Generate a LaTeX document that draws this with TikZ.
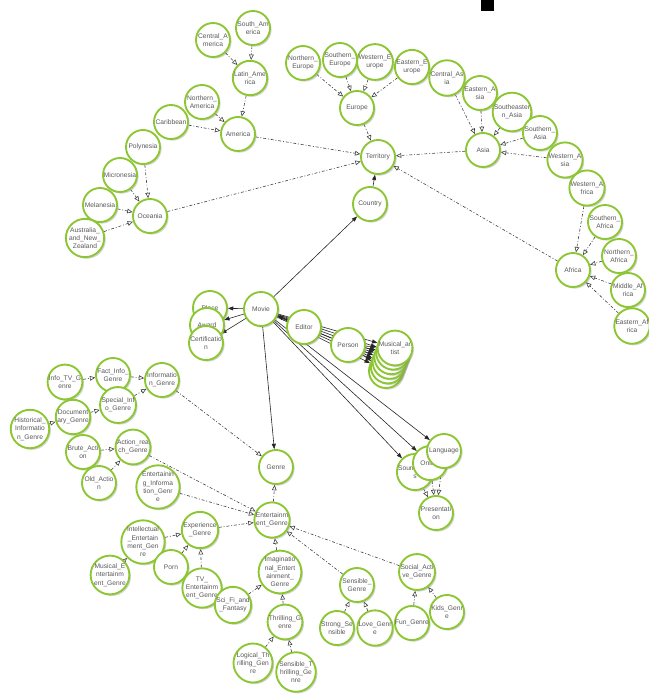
\documentclass[tikz,border=0pt]{standalone}
\usepackage{fontspec}
\setmainfont{Liberation Sans}
\usetikzlibrary{arrows.meta, shadows, backgrounds}

\definecolor{ontogreen}{RGB}{140,198,50}

\begin{document}
\begin{tikzpicture}[x=0.75pt, y=-0.75pt,
    concept/.style={circle, draw=ontogreen, line width=1.4pt, fill=white, minimum size=25.5pt, inner sep=0pt, align=center, font=\fontsize{5}{6.2}\selectfont, text=black!65, drop shadow={shadow xshift=1.2pt, shadow yshift=-1.2pt, opacity=0.35, fill=black!50}},
    isa/.style={-{Triangle[open, length=4pt, width=3.5pt]}, dash pattern=on 2.2pt off 1.4pt on 0.7pt off 1.4pt, black!75, line width=0.45pt},
    prop/.style={-{Triangle[length=4pt, width=3pt]}, black!85, line width=0.45pt}
]
\useasboundingbox (0,0) rectangle (649,694);

% territory part
\node[concept] (southam)     at (253,28)  {South\_Am\\erica};
\node[concept] (centralam)   at (213,40)  {Central\_A\\merica};
\node[concept] (latinam)     at (250,78)  {Latin\_Ame\\rica};
\node[concept] (northam)     at (202,102) {Northern\_\\America};
\node[concept] (caribbean)   at (171,122) {Caribbean};
\node[concept] (america)     at (238,134) {America};
\node[concept] (polynesia)   at (143,147) {Polynesia};
\node[concept] (micronesia)  at (120,175) {Micronesia};
\node[concept] (melanesia)   at (100,205) {Melanesia};
\node[concept] (oceania)     at (150,216) {Oceania};
\node[concept] (ausnz)       at (85,238)  {Australia\_\\and\_New\_\\Zealand};
\node[concept] (northeu)     at (303,63)  {Northern\_\\Europe};
\node[concept] (southeu)     at (340,60)  {Southern\_\\Europe};
\node[concept] (westeu)      at (375,62)  {Western\_E\\urope};
\node[concept] (easteu)      at (412,67)  {Eastern\_E\\urope};
\node[concept] (europe)      at (357,108) {Europe};
\node[concept] (centralas)   at (447,78)  {Central\_As\\ia};
\node[concept] (eastas)      at (480,93)  {Eastern\_A\\sia};
\node[concept] (southeastas) at (512,112) {Southeaster\\n\_Asia};
\node[concept] (southas)     at (540,133) {Southern\_\\Asia};
\node[concept] (asia)        at (483,150) {Asia};
\node[concept] (westas)      at (565,160) {Western\_A\\sia};
\node[concept] (territory)   at (378,157) {Territory};
\node[concept] (country)     at (370,204) {Country};
\node[concept] (westaf)      at (587,188) {Western\_A\\frica};
\node[concept] (southaf)     at (605,222) {Southern\_\\Africa};
\node[concept] (northaf)     at (619,256) {Northern\_\\Africa};
\node[concept] (middleaf)    at (628,290) {Middle\_Af\\rica};
\node[concept] (eastaf)      at (632,326) {Eastern\_Af\\rica};
\node[concept] (africa)      at (573,270) {Africa};

% movie part
\node[concept] (place)   at (210,308) {Place};
\node[concept] (award)   at (207,325) {Award};
\node[concept] (cert)    at (206,343) {Certificatio\\n};
\node[concept] (movie)   at (261,309) {Movie};
\node[concept] (editor)  at (304,327) {Editor};
\node[concept] (person)  at (348,345) {Person};
\foreach \i in {1,...,5}
    \node[concept] (m\i) at ({386+1.8*(\i-1)}, {371-4.6*(\i-1)}) {};
\node[concept] (m6) at (395,348) {Musical\_ar\\tist};
\node[concept] (sound)        at (415,472) {Soundtrack\\s};
\node[concept] (online)       at (430,463) {Online};
\node[concept] (language)     at (444,451) {Language};
\node[concept] (presentation) at (436,513) {Presentati\\on};

% genre part
\node[concept] (infotv)        at (65,382)  {Info\_TV\_G\\enre};
\node[concept] (factinfo)      at (113,375) {Fact\_Info\_\\Genre};
\node[concept] (information)   at (162,380) {Informatio\\n\_Genre};
\node[concept] (specialinfo)   at (118,405) {Special\_Inf\\o\_Genre};
\node[concept] (documentary)   at (73,417)  {Document\\ary\_Genre};
\node[concept] (historical)    at (30,429)  {Historical\_\\Informatio\\n\_Genre};
\node[concept] (brute)         at (83,452)  {Brute\_Acti\\on};
\node[concept] (actionreach)   at (133,447) {Action\_rea\\ch\_Genre};
\node[concept] (oldaction)     at (99,483)  {Old\_Actio\\n};
\node[concept] (entinfo)       at (158,487) {Entertainin\\g\_Informa\\tion\_Genr\\e};
\node[concept] (genre)         at (276,467) {Genre};
\node[concept] (entertainment) at (272,520) {Entertainm\\ent\_Genre};
\node[concept] (intellectual)  at (143,542) {Intellectual\\\_Entertain\\ment\_Gen\\re};
\node[concept] (experience)    at (200,530) {Experience\\\_Genre};
\node[concept] (porn)          at (171,567) {Porn};
\node[concept] (musicalent)    at (110,575) {Musical\_E\\ntertainm\\ent\_Genre};
\node[concept] (tvent)         at (202,588) {TV\_\\Entertainm\\ent\_Genre};
\node[concept] (scifi)         at (233,605) {Sci\_Fi\_and\\\_Fantasy};
\node[concept] (imaginational) at (280,572) {Imaginatio\\nal\_Entert\\ainment\_\\Genre};
\node[concept] (thrilling)     at (285,622) {Thrilling\_G\\enre};
\node[concept] (logical)       at (253,663) {Logical\_Th\\rilling\_Gen\\re};
\node[concept] (sensiblethr)   at (296,672) {Sensible\_T\\hrilling\_Ge\\nre};
\node[concept] (sensible)      at (357,585) {Sensible\_\\Genre};
\node[concept] (social)        at (417,572) {Social\_Acti\\ve\_Genre};
\node[concept] (strong)        at (337,628) {Strong\_Se\\nsible};
\node[concept] (love)          at (375,628) {Love\_Genr\\e};
\node[concept] (fun)           at (412,623) {Fun\_Genre};
\node[concept] (kids)          at (447,612) {Kids\_Genr\\e};

\node[fill=black, minimum width=9.75pt, minimum height=8.25pt, inner sep=0pt] (corner) at (487.5,5.5) {};

\begin{scope}[on background layer]
% subclass links
\foreach \c in {southam, centralam} \draw[isa] (\c) -- (latinam);
\foreach \c in {latinam, northam, caribbean} \draw[isa] (\c) -- (america);
\foreach \c in {polynesia, micronesia, melanesia, ausnz} \draw[isa] (\c) -- (oceania);
\foreach \c in {northeu, southeu, westeu, easteu} \draw[isa] (\c) -- (europe);
\foreach \c in {centralas, eastas, southeastas, southas, westas} \draw[isa] (\c) -- (asia);
\foreach \c in {westaf, southaf, northaf, middleaf, eastaf} \draw[isa] (\c) -- (africa);
\foreach \c in {america, oceania, europe, asia, africa} \draw[isa] (\c) -- (territory);
\draw[isa] (infotv) -- (factinfo);
\draw[isa] (factinfo) -- (information);
\draw[isa] (specialinfo) -- (information);
\draw[isa] (documentary) -- (specialinfo);
\draw[isa] (historical) -- (documentary);
\draw[isa] (information) -- (genre);
\draw[isa] (brute) -- (actionreach);
\draw[isa] (oldaction) -- (actionreach);
\foreach \c in {actionreach, entinfo, experience, imaginational, sensible, social} \draw[isa] (\c) -- (entertainment);
\draw[isa] (entertainment) -- (genre);
\foreach \c in {intellectual, porn, tvent} \draw[isa] (\c) -- (experience);
\draw[isa] (musicalent) -- (intellectual);
\foreach \c in {scifi, thrilling} \draw[isa] (\c) -- (imaginational);
\foreach \c in {logical, sensiblethr} \draw[isa] (\c) -- (thrilling);
\foreach \c in {strong, love} \draw[isa] (\c) -- (sensible);
\foreach \c in {fun, kids} \draw[isa] (\c) -- (social);
\foreach \c in {sound, online, language} \draw[isa] (\c) -- (presentation);
% properties
\draw[prop] (country) -- (territory);
\foreach \c in {country, place, award, cert, genre, sound, online, language} \draw[prop] (movie) -- (\c);
\foreach \i in {1,...,6} \draw[prop] (movie) -- (m\i);
\foreach \i in {1,...,6} \draw[prop] (person) -- (m\i);
\draw[prop] (editor) -- (movie);
\draw[prop] (person) -- (movie);
\end{scope}
\end{tikzpicture}
\end{document}
